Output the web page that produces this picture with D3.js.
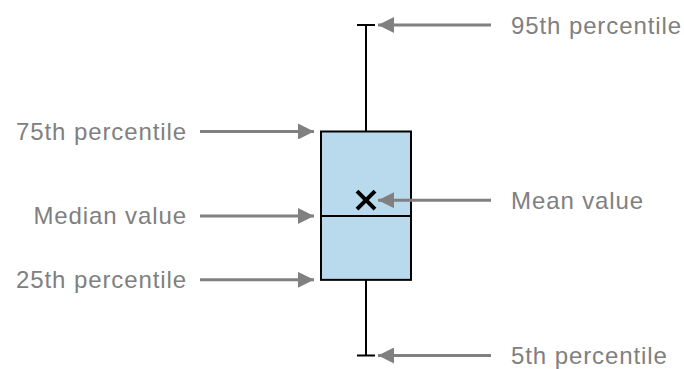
<!DOCTYPE html>
<html>
<head>
<meta charset="utf-8">
<style>
    body { margin: 0; background: #fff; }
    text { font-family: "Liberation Sans", Arial, sans-serif; font-size: 24px; fill: #808080; letter-spacing: 0.9px; }
</style>
</head>
<body>
<script src="https://d3js.org/d3.v7.min.js"></script>
<script>
    // schematic box plot values (arbitrary units)
    var stats = ["p5", "p25", "median", "mean", "p75", "p95"];
    var values = [5, 25.6, 43, 47.3, 66, 95];
    var leftLabels = ["75th percentile", "Median value", "25th percentile"];
    var leftKeys = ["p75", "median", "p25"];
    var rightLabels = ["95th percentile", "Mean value", "5th percentile"];
    var rightKeys = ["p95", "mean", "p5"];

    var width = 684, height = 369;
    var v = {};
    stats.forEach(function (s, i) { v[s] = values[i]; });

    var svg = d3.select("body").append("svg")
        .attr("width", width)
        .attr("height", height);

    var defs = svg.append("defs");
    defs.append("marker")
        .attr("id", "head")
        .attr("viewBox", "0 0 16 16")
        .attr("refX", 16).attr("refY", 8)
        .attr("markerWidth", 16).attr("markerHeight", 16)
        .attr("markerUnits", "userSpaceOnUse")
        .attr("orient", "auto")
        .append("path")
        .attr("d", "M0,0L16,8L0,16Z")
        .attr("fill", "#808080");

    var y = d3.scaleLinear().domain([5, 95]).range([355.5, 25]);
    var cx = 366, boxW = 90, capW = 18;

    // whiskers
    svg.append("line")
        .attr("x1", cx).attr("x2", cx)
        .attr("y1", y(v.p95)).attr("y2", y(v.p5))
        .attr("stroke", "#000").attr("stroke-width", 2);
    [v.p95, v.p5].forEach(function (d) {
        svg.append("line")
            .attr("x1", cx - capW / 2).attr("x2", cx + capW / 2)
            .attr("y1", y(d)).attr("y2", y(d))
            .attr("stroke", "#000").attr("stroke-width", 2);
    });

    // box
    svg.append("rect")
        .attr("x", cx - boxW / 2).attr("y", y(v.p75))
        .attr("width", boxW).attr("height", y(v.p25) - y(v.p75))
        .attr("fill", "#b9d9ec").attr("stroke", "#000").attr("stroke-width", 2);
    svg.append("line")
        .attr("x1", cx - boxW / 2).attr("x2", cx + boxW / 2)
        .attr("y1", y(v.median)).attr("y2", y(v.median))
        .attr("stroke", "#000").attr("stroke-width", 2);

    // mean marker
    var s = 9;
    svg.append("path")
        .attr("d", "M" + (cx - s) + "," + (y(v.mean) - s) + "L" + (cx + s) + "," + (y(v.mean) + s) +
            "M" + (cx + s) + "," + (y(v.mean) - s) + "L" + (cx - s) + "," + (y(v.mean) + s))
        .attr("stroke", "#000").attr("stroke-width", 4).attr("fill", "none");

    // left annotations
    leftKeys.forEach(function (k, i) {
        var yy = y(v[k]);
        svg.append("line")
            .attr("x1", 200).attr("x2", 314)
            .attr("y1", yy).attr("y2", yy)
            .attr("stroke", "#808080").attr("stroke-width", 3)
            .attr("marker-end", "url(#head)");
        svg.append("text")
            .attr("x", 187).attr("y", yy + 8.5)
            .attr("text-anchor", "end")
            .text(leftLabels[i]);
    });

    // right annotations
    rightKeys.forEach(function (k, i) {
        var yy = y(v[k]);
        svg.append("line")
            .attr("x1", 491).attr("x2", 378)
            .attr("y1", yy).attr("y2", yy)
            .attr("stroke", "#808080").attr("stroke-width", 3)
            .attr("marker-end", "url(#head)");
        svg.append("text")
            .attr("x", 511).attr("y", yy + 8.5)
            .text(rightLabels[i]);
    });
</script>
</body>
</html>
